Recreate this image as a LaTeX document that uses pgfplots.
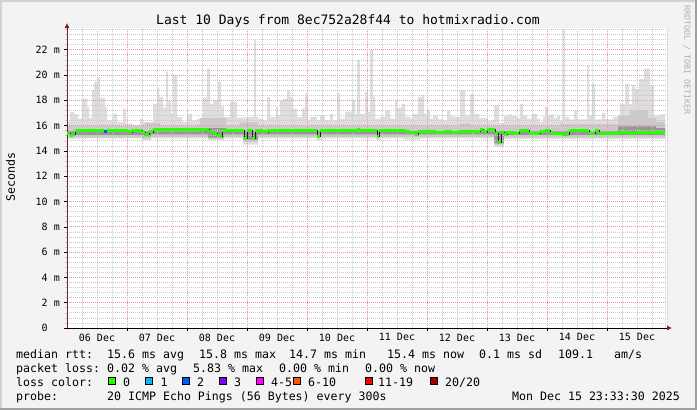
\documentclass[border=0pt]{standalone}
\usepackage{fontspec}
\setmainfont{DejaVu Sans Mono}
\usepackage{pgfplots}
\pgfplotsset{compat=1.18}
\usetikzlibrary{arrows.meta}
\definecolor{bgc}{RGB}{243,243,243}
\definecolor{shadea}{RGB}{210,210,210}
\definecolor{shadeb}{RGB}{160,160,160}
\definecolor{smokeA}{RGB}{222,222,222}
\definecolor{smokeB}{RGB}{202,202,202}
\definecolor{smokeC}{RGB}{150,150,150}
\definecolor{medline}{RGB}{32,32,32}
\definecolor{lc0}{RGB}{38,255,0}
\definecolor{lc1}{RGB}{0,184,255}
\definecolor{lc2}{RGB}{0,89,255}
\definecolor{lc3}{RGB}{126,0,255}
\definecolor{lc4}{RGB}{255,0,255}
\definecolor{lc6}{RGB}{255,85,0}
\definecolor{lc11}{RGB}{255,0,0}
\definecolor{lc20}{RGB}{161,0,0}
\definecolor{mgridc}{RGB}{235,150,150}
\definecolor{gridc}{RGB}{200,200,200}
\definecolor{arrowc}{RGB}{140,20,20}
\definecolor{rrdc}{RGB}{175,175,175}
\newcommand{\legfont}{\fontsize{11.6bp}{14bp}\selectfont}
\pgfplotsset{rrdframe/.style={at={(67bp,-328bp)}, anchor=south west,
  scale only axis, width=600bp, height=300bp,
  xmin=67, xmax=667, ymin=0, ymax=23.72}}
\begin{document}
\begin{tikzpicture}
\fill[bgc] (0,0) rectangle (697bp,-410bp);
\fill[shadea] (0,0) rectangle (697bp,-2bp);
\fill[shadea] (0,0) rectangle (2bp,-410bp);
\fill[shadeb] (695bp,0) rectangle (697bp,-410bp);
\fill[shadeb] (0,-408bp) rectangle (697bp,-410bp);
\begin{axis}[
  rrdframe,
  axis background/.style={fill=white},
  axis on top,
  axis lines=left,
  x axis line style={draw=black, line width=0.8bp, shorten >=-5bp, -{Latex[length=5bp,width=5bp,color=arrowc]}},
  y axis line style={draw={rgb,255:red,110;green,40;blue,40}, line width=0.8bp, shorten >=-5bp, -{Latex[length=5bp,width=5bp,color=arrowc]}},
  xtick={127,187,247,307,367,427,487,547,607},
  xticklabels={},
  minor xtick={67,82,...,667},
  extra x ticks={97,157,217,277,337,397,457,517,577,637},
  extra x tick labels={06 Dec,07 Dec,08 Dec,09 Dec,10 Dec,11 Dec,12 Dec,13 Dec,14 Dec,15 Dec},
  extra x tick style={grid=none, major tick length=0pt},
  ytick={0,2,4,6,8,10,12,14,16,18,20,22},
  yticklabels={0\phantom{xx},2 m,4 m,6 m,8 m,10 m,12 m,14 m,16 m,18 m,20 m,22 m},
  minor ytick={0,0.4,...,23.7},
  grid=both,
  major grid style={draw=mgridc, dash pattern=on 1bp off 1bp, line width=0.7bp},
  minor grid style={draw=gridc, dash pattern=on 1bp off 1bp, line width=0.7bp},
  tick align=outside,
  major tick length=3bp, minor tick length=2bp,
  major tick style={draw=black, line width=0.6bp},
  minor tick style={draw=gridc, line width=0.6bp},
  xticklabel style={font=\fontsize{10bp}{12bp}\selectfont, inner sep=0pt, anchor=north, yshift=-5.5bp},
  yticklabel style={font=\fontsize{10bp}{12bp}\selectfont, inner sep=0pt, anchor=east, xshift=-4bp},
]
% smoke: upper envelopes (filled down), then lower envelopes
\addplot[const plot, fill=smokeA, draw=none] coordinates {(67,16.3)(70,17.07)(74,16.94)(78,16.55)(82,18.13)(87,17.47)(89,16.6)(92,18.78)(94,19.44)(97,19.83)(100,18.21)(105,17.47)(107,16.42)(113,16.94)(117,16.28)(123,17.34)(126,16.16)(133,16.02)(140,16.55)(143,16.28)(153,17.73)(157,19.0)(159,18.26)(163,17.42)(166,20.3)(168,18.0)(171,16.94)(173,19.97)(177,16.68)(182,16.28)(187,16.94)(192,16.42)(197,16.55)(203,18.21)(207,20.5)(210,17.73)(213,18.0)(218,19.44)(221,17.52)(224,16.68)(230,17.9)(237,16.63)(248,16.68)(254,22.79)(256,16.68)(258,16.55)(263,16.42)(267,18.26)(270,16.68)(276,17.47)(278,16.81)(280,18.0)(283,18.13)(287,18.78)(290,18.26)(293,17.34)(297,16.68)(302,17.34)(305,18.52)(308,16.42)(310,16.68)(317,16.42)(320,16.81)(325,16.42)(330,16.94)(333,16.42)(337,18.57)(340,16.55)(345,17.1)(352,18.0)(355,16.94)(357,21.2)(360,16.94)(365,18.65)(368,17.07)(370,22.0)(373,18.3)(375,16.55)(380,16.7)(385,17.2)(390,16.55)(395,18.0)(397,17.4)(402,17.7)(405,16.7)(410,16.55)(413,16.94)(418,18.25)(422,18.4)(424,16.94)(427,17.2)(430,16.55)(433,16.8)(438,16.5)(443,16.4)(447,17.2)(450,16.8)(453,16.7)(460,18.8)(465,16.8)(470,18.5)(474,16.94)(479,16.6)(487,16.4)(494,17.6)(499,16.2)(504,16.8)(509,16.9)(512,16.75)(517,16.6)(520,17.7)(523,16.8)(527,16.55)(532,16.94)(537,16.55)(540,16.3)(543,16.7)(545,17.47)(548,16.8)(550,16.9)(554,16.6)(557,16.8)(560,16.4)(563,23.6)(565,16.7)(569,16.5)(574,17.2)(577,16.5)(587,20.75)(589,16.8)(592,19.3)(595,16.5)(602,17.0)(605,16.5)(613,16.7)(620,17.7)(625,19.3)(629,17.7)(632,19.2)(635,18.9)(639,19.7)(644,20.5)(650,19.2)(654,16.8)(660,16.9)(665,16.9)} \closedcycle;
\addplot[const plot, fill=smokeB, draw=none] coordinates {(67,16.0)(145,16.2)(160,16.0)(200,16.6)(226,16.0)(240,16.25)(258,16.0)(460,16.15)(470,16.0)(560,16.1)(618,16.8)(630,17.2)(648,16.6)(656,16.3)(665,16.3)} \closedcycle;
\addplot[const plot, fill=smokeC, draw=none] coordinates {(67,15.55)(200,15.8)(226,15.55)(612,15.55)(618,15.95)(656,15.8)(665,15.8)} \closedcycle;
\addplot[const plot, fill=smokeB, draw=none] coordinates {(67,15.25)(142,15.15)(151,15.3)(208,15.05)(224,15.3)(243,14.9)(258,15.3)(494,14.6)(504,15.25)(665,15.25)} \closedcycle;
\addplot[const plot, fill=smokeA, draw=none] coordinates {(67,15.05)(142,14.95)(151,15.1)(208,14.95)(224,15.1)(243,14.7)(258,15.1)(494,14.5)(504,15.05)(665,15.05)} \closedcycle;
\addplot[const plot, fill=white, draw=none] coordinates {(67,14.95)(75,15.0)(142,14.85)(151,15.0)(208,14.85)(224,15.0)(243,14.5)(258,15.0)(316,14.85)(322,15.0)(376,14.85)(381,15.0)(404,14.9)(420,15.0)(494,14.3)(504,14.95)(665,14.95)} \closedcycle;
\end{axis}
% median rtt on top of the grid
\begin{axis}[rrdframe, hide axis]
\addplot[const plot, draw=medline, line width=0.8bp] coordinates {(67,15.35)(70,15.2)(73,15.3)(75,15.6)(104,15.55)(107,15.6)(128,15.5)(132,15.6)(142,15.45)(145,15.3)(149,15.5)(153,15.68)(209,15.5)(213,15.4)(217,15.25)(220,15.15)(222,15.6)(244,15.0)(247,15.6)(252,15.0)(255,15.6)(263,15.5)(268,15.62)(317,15.15)(320,15.62)(357,15.72)(360,15.62)(377,15.15)(379,15.62)(405,15.5)(410,15.42)(415,15.3)(418,15.5)(428,15.55)(436,15.45)(444,15.55)(452,15.45)(458,15.55)(480,15.68)(483,15.5)(487,15.71)(495,15.37)(498,14.7)(501,15.45)(504,15.3)(507,15.45)(514,15.37)(519,15.6)(529,15.37)(540,15.55)(545,15.65)(550,15.4)(562,15.3)(569,15.62)(589,15.37)(595,15.65)(599,15.4)(619,15.45)(629,15.37)(635,15.45)(665,15.45)};
\addplot[jump mark left, draw=lc0, line width=3bp] coordinates {(67,15.35)(70,15.2)(73,15.3)(75,15.6)(104,15.55)(107,15.6)(128,15.5)(132,15.6)(142,15.45)(145,15.3)(149,15.5)(153,15.68)(209,15.5)(213,15.4)(217,15.25)(220,15.15)(222,15.6)(244,15.0)(247,15.6)(252,15.0)(255,15.6)(263,15.5)(268,15.62)(317,15.15)(320,15.62)(357,15.72)(360,15.62)(377,15.15)(379,15.62)(405,15.5)(410,15.42)(415,15.3)(418,15.5)(428,15.55)(436,15.45)(444,15.55)(452,15.45)(458,15.55)(480,15.68)(483,15.5)(487,15.71)(495,15.37)(498,14.7)(501,15.45)(504,15.3)(507,15.45)(514,15.37)(519,15.6)(529,15.37)(540,15.55)(545,15.65)(550,15.4)(562,15.3)(569,15.62)(589,15.37)(595,15.65)(599,15.4)(619,15.45)(629,15.37)(635,15.45)(665,15.45)};
\addplot[jump mark left, draw=lc2, line width=3bp] coordinates {(104,15.55)(107,15.55)};
\end{axis}
% title and labels
\node[anchor=base, inner sep=0pt, font=\fontsize{13bp}{15bp}\selectfont] at (348bp,-24bp) {Last 10 Days from 8ec752a28f44 to hotmixradio.com};
\node[rotate=90, inner sep=0pt, font=\fontsize{11.6bp}{14bp}\selectfont] at (10.5bp,-177bp) {Seconds};
\node[rotate=-90, inner sep=0pt, text=rrdc, font=\fontsize{8.3bp}{10bp}\selectfont] at (687bp,-60bp) {RRDTOOL / TOBI OETIKER};
% legend
\begin{scope}[every node/.style={anchor=base west, inner sep=0pt, font=\legfont}]
\node at (16bp,-358.3bp) {median rtt:};
\node at (107bp,-358.3bp) {15.6 ms avg};
\node at (199bp,-358.3bp) {15.8 ms max};
\node at (289bp,-358.3bp) {14.7 ms min};
\node at (387bp,-358.3bp) {15.4 ms now};
\node at (479bp,-358.3bp) {0.1 ms sd};
\node at (558bp,-358.3bp) {109.1};
\node at (614bp,-358.3bp) {am/s};
\node at (16bp,-372.7bp) {packet loss:};
\node at (107bp,-372.7bp) {0.02 \% avg};
\node at (193bp,-372.7bp) {5.83 \% max};
\node at (279bp,-372.7bp) {0.00 \% min};
\node at (365bp,-372.7bp) {0.00 \% now};
\node at (16bp,-386.2bp) {loss color:};
\node at (123bp,-386.2bp) {0};
\node at (160.5bp,-386.2bp) {1};
\node at (197bp,-386.2bp) {2};
\node at (234bp,-386.2bp) {3};
\node at (271bp,-386.2bp) {4-5};
\node at (308bp,-386.2bp) {6-10};
\node at (378bp,-386.2bp) {11-19};
\node at (445bp,-386.2bp) {20/20};
\node at (16bp,-400.3bp) {probe:};
\node at (107bp,-400.3bp) {20 ICMP Echo Pings (56 Bytes) every 300s};
\node[anchor=base east] at (680bp,-400.3bp) {Mon Dec 15 23:33:30 2025};
\end{scope}
\begin{scope}[line width=0.8bp]
\filldraw[fill=lc0, draw=black] (108.5bp,-377.5bp) rectangle ++(7bp,-7bp);
\filldraw[fill=lc1, draw=black] (145.5bp,-377.5bp) rectangle ++(7bp,-7bp);
\filldraw[fill=lc2, draw=black] (182.5bp,-377.5bp) rectangle ++(7bp,-7bp);
\filldraw[fill=lc3, draw=black] (219.5bp,-377.5bp) rectangle ++(7bp,-7bp);
\filldraw[fill=lc4, draw=black] (256.5bp,-377.5bp) rectangle ++(7bp,-7bp);
\filldraw[fill=lc6, draw=black] (293.5bp,-377.5bp) rectangle ++(7bp,-7bp);
\filldraw[fill=lc11, draw=black] (365.5bp,-377.5bp) rectangle ++(7bp,-7bp);
\filldraw[fill=lc20, draw=black] (430.5bp,-377.5bp) rectangle ++(7bp,-7bp);
\end{scope}
\pgfresetboundingbox
\path[use as bounding box] (0,0) rectangle (697bp,-410bp);
\end{tikzpicture}
\end{document}
